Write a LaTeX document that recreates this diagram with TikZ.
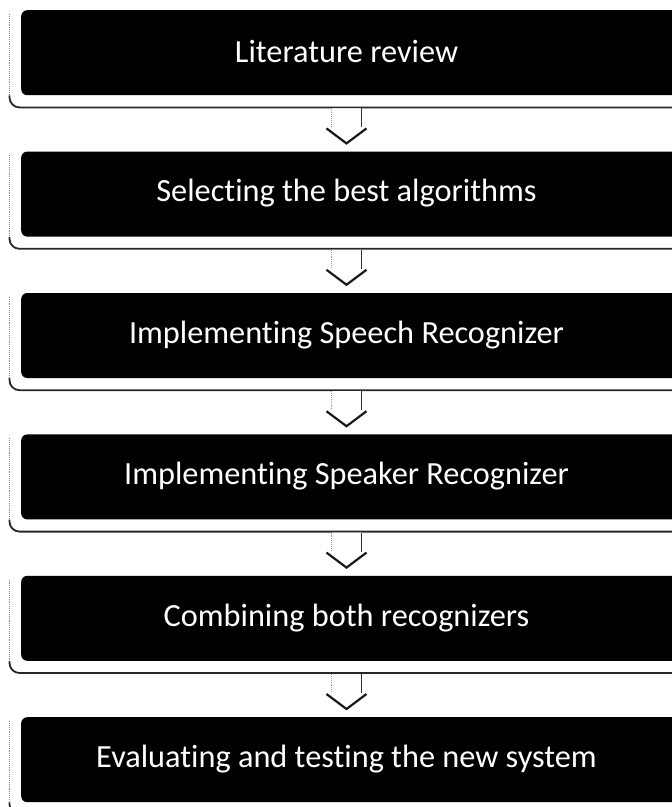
\documentclass[tikz,border=0pt]{standalone}
\usepackage{fontspec}
\setmainfont{Carlito}[Ligatures={NoCommon}]
\usetikzlibrary{calc}
\begin{document}
\begin{tikzpicture}[x=1pt,y=-1pt,
  stagebox/.style={fill=black, rounded corners=6pt, minimum width=669pt,
    minimum height=85pt, anchor=north west, inner sep=0pt},
  stagetext/.style={text=white, font=\fontsize{32.3}{40}\selectfont, inner sep=0pt},
  framerule/.style={draw=black!85, line width=1.8pt},
  frameside/.style={draw=black!45, line width=0.9pt, densely dotted},
  arrowbody/.style={fill=white, draw=black!80, line width=1pt},
  arrowhead/.style={draw=black!90, line width=2.2pt}]
\useasboundingbox (0,0) rectangle (672,807);
\clip (0,0) rectangle (672,807);

% stages: black bars with centred white captions
\foreach \i/\top/\txt in {
  1/10/Literature review,
  2/151.4/Selecting the best algorithms,
  3/292.8/Implementing Speech Recognizer,
  4/434.2/Implementing Speaker Recognizer,
  5/575.6/Combining both recognizers,
  6/717/Evaluating and testing the new system}{
  \node[stagebox] (b\i) at (21,\top) {};
  \node[stagetext] (t\i) at (346.5,\top+42) {\txt};
}

% outer frame of each stage: dotted left side, solid bottom rule
\foreach \i in {1,...,6}{
  \draw[frameside] ($(b\i.north west)+(-11.5,4)$) -- ($(b\i.south west)+(-11.5,0)$);
  \draw[framerule, rounded corners=10pt] ($(b\i.south west)+(-11.5,0)$)
    -- ($(b\i.south west)+(-11.5,12)$) -- ($(b\i.south east)+(0,12)$);
}

% block arrows between consecutive stages
\foreach \i/\j in {1/2,2/3,3/4,4/5,5/6}{
  \coordinate (s\i) at ($(t\i |- b\i.south)+(0,13)$);
  \coordinate (p\i) at ($(t\j |- b\j.north)+(0,-8)$);
  \fill[white] ($(s\i)+(-15,0)$) -- ($(p\i)+(-15,-16)$) -- ($(p\i)+(-21,-16)$)
    -- (p\i) -- ($(p\i)+(21,-16)$) -- ($(p\i)+(15,-16)$) -- ($(s\i)+(15,0)$) -- cycle;
  \draw[draw=black!40, line width=0.9pt, densely dotted] ($(s\i)+(-15,0)$) -- ($(p\i)+(-15,-16)$);
  \draw[arrowbody] ($(s\i)+(15,0)$) -- ($(p\i)+(15,-16)$);
  \draw[arrowhead, line join=miter] ($(p\i)+(-20,-15)$) -- (p\i) -- ($(p\i)+(20,-15)$);
}
\end{tikzpicture}
\end{document}
